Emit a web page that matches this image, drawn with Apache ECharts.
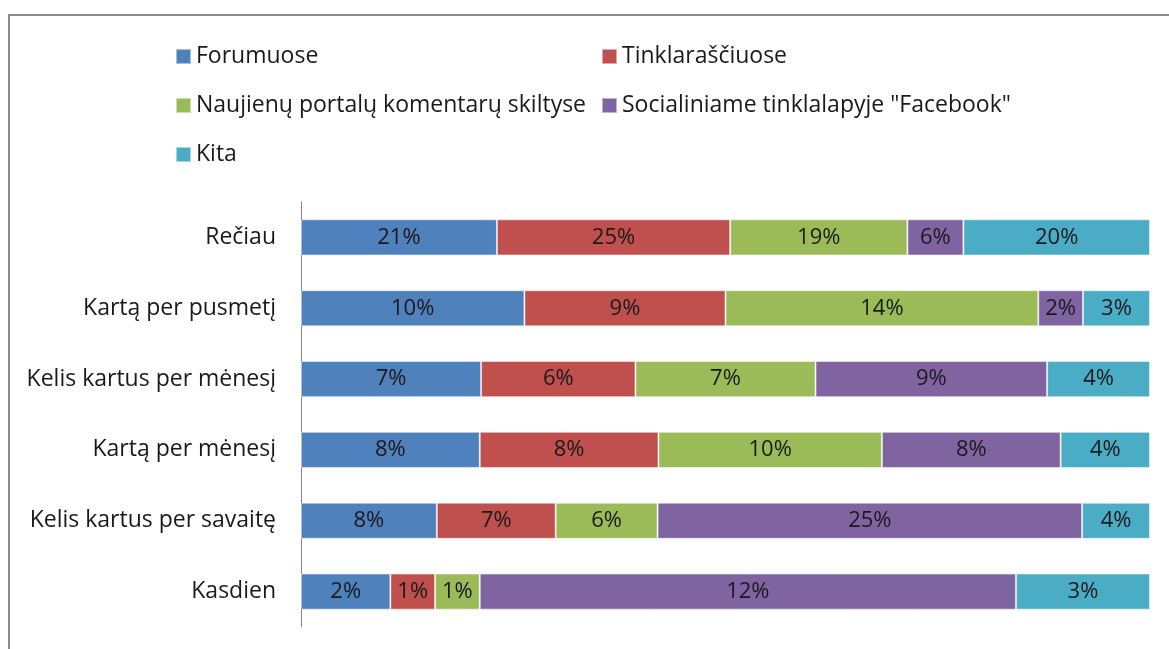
<!DOCTYPE html>
<html>
<head>
<meta charset="utf-8">
<script src="https://cdn.jsdelivr.net/npm/echarts@6/dist/echarts.min.js"></script>
<style>
  html, body { margin: 0; padding: 0; background: #fff; }
  #chart { width: 1169px; height: 649px; }
  #frame { position: absolute; left: 8px; top: 14px; width: 1200px; height: 700px; border: 2px solid #8a8a8a; box-sizing: border-box; pointer-events: none; }
</style>
</head>
<body>
<div id="chart"></div>
<div id="frame"></div>
<script>
// Kategorijos (iš viršaus į apačią)
const categories = ['Rečiau', 'Kartą per pusmetį', 'Kelis kartus per mėnesį', 'Kartą per mėnesį', 'Kelis kartus per savaitę', 'Kasdien'];

// Serijų pavadinimai ir procentai, kaip parašyta ant stulpelių
const seriesNames = ['Forumuose', 'Tinklaraščiuose', 'Naujienų portalų komentarų skiltyse', 'Socialiniame tinklalapyje "Facebook"', 'Kita'];
const forumuose = [21, 10, 7, 8, 8, 2];
const tinklarasciuose = [25, 9, 6, 8, 7, 1];
const portalai = [19, 14, 7, 10, 6, 1];
const facebook = [6, 2, 9, 8, 25, 12];
const kita = [20, 3, 4, 4, 4, 3];

const colors = ['#4F81BD', '#C0504D', '#9BBB59', '#8064A2', '#4BACC6'];
const rawSeries = [forumuose, tinklarasciuose, portalai, facebook, kita];

// 100% sudėtinė diagrama: kiekviena eilutė normalizuojama iki 100
const rowTotals = categories.map((c, i) => rawSeries.reduce((s, arr) => s + arr[i], 0));

const chart = echarts.init(document.getElementById('chart'), null, { renderer: 'canvas' });

const series = rawSeries.map((arr, si) => ({
    name: seriesNames[si],
    type: 'bar',
    stack: 'total',
    barCategoryGap: '49%',
    data: arr.map((v, i) => ({ value: v / rowTotals[i] * 100, raw: v })),
    itemStyle: { color: colors[si], borderColor: 'rgba(255,255,255,0.5)', borderWidth: 1 },
    label: {
        show: true,
        position: 'inside',
        formatter: p => p.data.raw + '%',
        color: '#1a1a1a',
        fontSize: 22,
        fontFamily: 'Open Sans'
    },
    emphasis: { disabled: true }
}));

const legendText = { fontSize: 23, fontFamily: 'Open Sans', color: '#1a1a1a' };

chart.setOption({
    backgroundColor: '#fff',
    animation: false,
    legend: [
        {
            orient: 'vertical', left: 175, top: 45, itemGap: 26, padding: 0,
            itemWidth: 15, itemHeight: 15, icon: 'rect',
            data: [seriesNames[0], seriesNames[2], seriesNames[4]],
            textStyle: legendText
        },
        {
            orient: 'vertical', left: 601, top: 45, itemGap: 26, padding: 0,
            itemWidth: 15, itemHeight: 15, icon: 'rect',
            data: [seriesNames[1], seriesNames[3]],
            textStyle: legendText
        }
    ],
    grid: { left: 301, right: 19, top: 202, bottom: 22, containLabel: false },
    xAxis: {
        type: 'value', min: 0, max: 100, show: false
    },
    yAxis: {
        type: 'category',
        inverse: true,
        data: categories,
        axisLine: { show: true, lineStyle: { color: '#868686', width: 1 } },
        axisTick: { show: false },
        axisLabel: { fontSize: 23, fontFamily: 'Open Sans', color: '#1a1a1a', margin: 25 }
    },
    series: series
});
</script>
</body>
</html>
